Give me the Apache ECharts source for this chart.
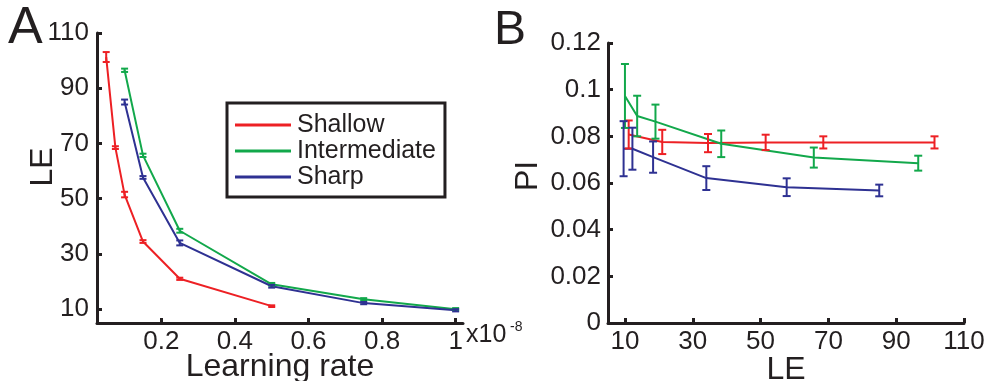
<!DOCTYPE html>
<html>
<head>
<meta charset="utf-8">
<script src="https://cdn.jsdelivr.net/npm/echarts@6/dist/echarts.min.js"></script>
<style>html,body{margin:0;padding:0;background:#fff}#c{width:985px;height:381px}</style>
</head>
<body>
<div id="c"></div>
<script>
// ---- data ----
const seriesNames = ['Shallow', 'Intermediate', 'Sharp'];
const lrShallow = [0.05, 0.075, 0.1, 0.15, 0.25, 0.5];
const lrOther = [0.1, 0.15, 0.25, 0.5, 0.75, 1];
const leShallow = [101.3, 68.5, 51.5, 34.5, 21, 11.1];
const leShallowErr = [1.8, 0.5, 1.0, 0.5, 0.4, 0.3];
const leInter = [96.5, 65.7, 38.4, 19, 13.6, 10];
const leInterErr = [0.6, 0.6, 0.7, 0.5, 0.4, 0.4];
const leSharp = [85, 57.7, 34, 18.3, 12.2, 9.6];
const leSharpErr = [0.9, 0.5, 0.9, 0.5, 0.4, 0.4];
const piShallow = [0.0774, 0.0774, 0.0774, 0.0771, 0.0776, 0.0808];
const piShallowErr = [0.0026, 0.0026, 0.0033, 0.0039, 0.0052, 0.006];
const piInter = [0.0685, 0.0709, 0.0768, 0.0863, 0.0887, 0.0973];
const piInterErr = [0.0032, 0.0043, 0.0057, 0.0073, 0.0087, 0.0137];
const piSharp = [0.0568, 0.0582, 0.0621, 0.0711, 0.0747, 0.0747];
const piSharpErr = [0.0025, 0.0038, 0.0051, 0.0067, 0.009, 0.0118];
const lrTicks = [0.2, 0.4, 0.6, 0.8, 1];
const leTicks = [10, 30, 50, 70, 90, 110];
const piTicks = [0, 0.02, 0.04, 0.06, 0.08, 0.1, 0.12];

// ---- styling ----
const colors = ['#ED2024', '#12A84B', '#2E3192'];
const ink = '#231F20';
const FONT = '"Liberation Sans", Arial, Helvetica, sans-serif';

const chart = echarts.init(document.getElementById('c'), null, {renderer: 'canvas'});

function pairs(xs, ys) { return xs.map((x, i) => [x, ys[i]]); }
function errData(xs, ys, es) { return xs.map((x, i) => [x, ys[i] - es[i], ys[i] + es[i]]); }
function errRender(capHalf) {
  return function (params, api) {
    const x = api.value(0), lo = api.value(1), hi = api.value(2);
    const p1 = api.coord([x, lo]), p2 = api.coord([x, hi]);
    const c = api.visual('color');
    const st = {stroke: c, lineWidth: 2};
    return {type: 'group', children: [
      {type: 'line', shape: {x1: p1[0], y1: p1[1], x2: p2[0], y2: p2[1]}, style: st},
      {type: 'line', shape: {x1: p1[0] - capHalf, y1: p1[1], x2: p1[0] + capHalf, y2: p1[1]}, style: st},
      {type: 'line', shape: {x1: p2[0] - capHalf, y1: p2[1], x2: p2[0] + capHalf, y2: p2[1]}, style: st}
    ]};
  };
}

const axisCommon = {
  axisLine: {show: true, lineStyle: {color: ink, width: 3}},
  axisTick: {show: true, inside: true, length: 5, lineStyle: {color: ink, width: 3}},
  splitLine: {show: false},
  axisLabel: {color: ink, fontSize: 26, fontFamily: FONT}
};
function mkAxis(extra, ticks, margin) {
  return Object.assign({}, axisCommon, extra, {
    axisTick: Object.assign({}, axisCommon.axisTick, {customValues: ticks}),
    axisLabel: Object.assign({}, axisCommon.axisLabel, {customValues: ticks, margin: margin,
      formatter: v => String(+v.toFixed(4))})
  });
}

const lineSeries = [];
const errSeries = [];
const setsA = [[lrShallow, leShallow, leShallowErr], [lrOther, leInter, leInterErr], [lrOther, leSharp, leSharpErr]];
const setsB = [[leShallow, piShallow, piShallowErr], [leInter, piInter, piInterErr], [leSharp, piSharp, piSharpErr]];
seriesNames.forEach((name, k) => {
  const a = setsA[k], b = setsB[k];
  lineSeries.push({type: 'line', name: name, xAxisIndex: 0, yAxisIndex: 0, data: pairs(a[0], a[1]),
    showSymbol: false, color: colors[k], lineStyle: {width: 2, color: colors[k]}, z: 3});
  errSeries.push({type: 'custom', name: name + ' errA', xAxisIndex: 0, yAxisIndex: 0,
    data: errData(a[0], a[1], a[2]), encode: {x: 0, y: [1, 2]}, renderItem: errRender(3.5),
    itemStyle: {color: colors[k]}, z: 4});
  lineSeries.push({type: 'line', name: name, xAxisIndex: 1, yAxisIndex: 1, data: pairs(b[0], b[1]),
    showSymbol: false, color: colors[k], lineStyle: {width: 2, color: colors[k]}, z: 3});
  errSeries.push({type: 'custom', name: name + ' errB', xAxisIndex: 1, yAxisIndex: 1,
    data: errData(b[0], b[1], b[2]), encode: {x: 0, y: [1, 2]}, renderItem: errRender(4),
    itemStyle: {color: colors[k]}, z: 4});
});

const option = {
  animation: false,
  backgroundColor: '#fff',
  textStyle: {fontFamily: FONT},
  grid: [
    {left: 97, top: 33, width: 366, height: 290, containLabel: false, outerBoundsMode: 'none'},
    {left: 608, top: 43, width: 356, height: 280, containLabel: false, outerBoundsMode: 'none'}
  ],
  xAxis: [
    mkAxis({type: 'value', gridIndex: 0, min: 0.025, max: 1.02}, lrTicks, 6),
    mkAxis({type: 'value', gridIndex: 1, min: 5, max: 110}, leTicks, 6)
  ],
  yAxis: [
    mkAxis({type: 'value', gridIndex: 0, min: 5, max: 110}, leTicks, 8),
    mkAxis({type: 'value', gridIndex: 1, min: 0, max: 0.12}, piTicks, 7)
  ],
  legend: {
    data: seriesNames,
    orient: 'vertical',
    left: 227, top: 103,
    padding: [9, 9, 7, 8],
    itemGap: 0,
    itemWidth: 56, itemHeight: 3,
    icon: 'rect',
    borderColor: ink, borderWidth: 3, borderRadius: 0,
    backgroundColor: '#fff',
    selectedMode: false,
    textStyle: {color: ink, fontSize: 25, lineHeight: 26, fontFamily: FONT, padding: [0, 0, 0, 1]}
  },
  graphic: [
    {type: 'text', left: 8, top: 3, style: {text: 'A', fontSize: 52, fontFamily: FONT, fill: ink}},
    {type: 'text', left: 494, top: 7, style: {text: 'B', fontSize: 48, fontFamily: FONT, fill: ink}},
    {type: 'text', x: 43, y: 167, rotation: Math.PI / 2,
      style: {text: 'LE', fontSize: 32, fontFamily: FONT, fill: ink, align: 'center', verticalAlign: 'middle'}},
    {type: 'text', x: 528, y: 176, rotation: Math.PI / 2,
      style: {text: 'PI', fontSize: 32, fontFamily: FONT, fill: ink, align: 'center', verticalAlign: 'middle'}},
    {type: 'text', x: 280, y: 351,
      style: {text: 'Learning rate', fontSize: 32, fontFamily: FONT, fill: ink, align: 'center', verticalAlign: 'top'}},
    {type: 'text', x: 786, y: 354,
      style: {text: 'LE', fontSize: 32, fontFamily: FONT, fill: ink, align: 'center', verticalAlign: 'top'}},
    {type: 'text', x: 466, y: 323,
      style: {text: 'x10', fontSize: 25, fontFamily: FONT, fill: ink, align: 'left', verticalAlign: 'top'}},
    {type: 'text', x: 510, y: 320,
      style: {text: '-8', fontSize: 14, fontFamily: FONT, fill: ink, align: 'left', verticalAlign: 'top'}}
  ],
  series: lineSeries.concat(errSeries)
};
chart.setOption(option);
</script>
</body>
</html>
